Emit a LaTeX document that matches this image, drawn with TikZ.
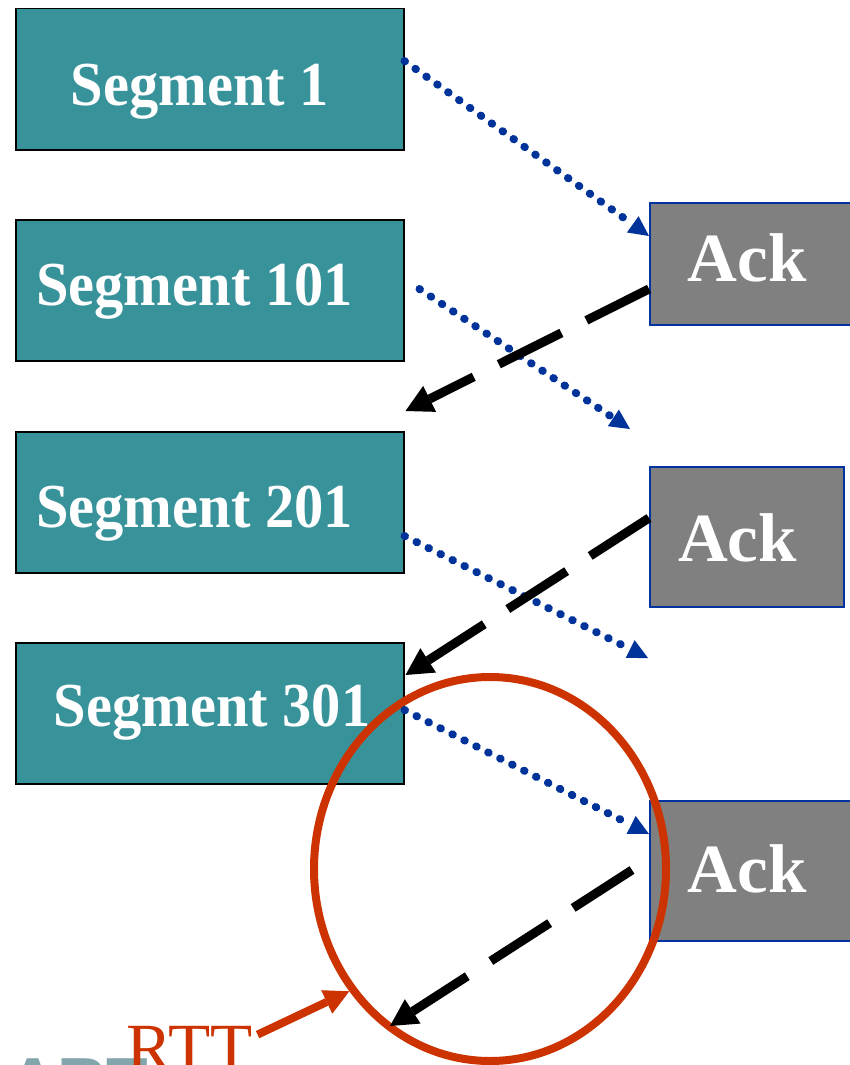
\documentclass[tikz,border=0pt]{standalone}
\usepackage{graphicx}
\usepackage{fontspec}
\setmainfont{Liberation Serif}
\newfontfamily\logofont{Liberation Sans}
\usetikzlibrary{arrows.meta,calc,shapes.geometric}

\definecolor{segteal}{RGB}{56,146,154}
\definecolor{ackgray}{RGB}{128,128,128}
\definecolor{ackblue}{RGB}{0,51,160}
\definecolor{dotblue}{RGB}{0,51,153}
\definecolor{rttred}{RGB}{204,51,0}
\definecolor{logogray}{RGB}{130,166,172}

% slightly tall lettering for the box labels
\newcommand{\tallbox}[1]{\scalebox{1}[1.07]{#1}}

\begin{document}
\begin{tikzpicture}[x=1pt,y=-1pt,
  segbox/.style={draw=black, line width=1.5pt, fill=segteal,
    minimum width=388pt, minimum height=141pt, anchor=north west, inner sep=0pt},
  ackbox/.style={draw=ackblue, line width=2pt, fill=ackgray,
    anchor=north west, inner sep=0pt},
  seglabel/.style={text=white, font=\bfseries\fontsize{58.5}{60}\selectfont,
    anchor=base, inner sep=0pt},
  acklabel/.style={text=white, font=\bfseries\fontsize{69}{69}\selectfont,
    anchor=base, inner sep=0pt},
  send/.style={dotblue, line width=8pt, line cap=round,
    dash pattern=on 0.6pt off 12.8pt,
    -{Triangle[length=20pt,width=20pt,line width=0pt]}},
  reply/.style={black, line width=9pt, dash pattern=on 70pt off 28pt,
    -{Triangle[length=27pt,width=29pt,line width=0pt]}},
  ringstyle/.style={ellipse, draw=rttred, line width=8pt,
    minimum width=352pt, minimum height=384pt, inner sep=0pt},
  rttarrow/.style={rttred, line width=8pt,
    -{Triangle[length=25pt,width=26pt,line width=0pt]}},
]
\useasboundingbox (0,0) rectangle (850,1065);
\clip (0,0) rectangle (850,1065);

% partial logo lettering at the lower edge
\node[text=logogray, font=\logofont\bfseries\fontsize{68}{68}\selectfont,
  anchor=base east, inner sep=0pt] (logo) at (148,1105) {ART};

% sender segments
\node[segbox] (s1)   at (15,8)   {};
\node[segbox] (s101) at (15,219) {};
\node[segbox] (s201) at (15,431) {};
\node[segbox] (s301) at (15,642) {};
\node[seglabel] (t1)   at (200,105)   {\tallbox{Segment 1}};
\node[seglabel] (t101) at (194.5,305) {\tallbox{Segment 101}};
\node[seglabel] (t201) at (194.5,527) {\tallbox{Segment 201}};
\node[seglabel] (t301) at (212,726)   {\tallbox{Segment 301}};

% acknowledgements
\node[ackbox, minimum width=215pt, minimum height=122pt] (a1) at (649,202) {};
\node[ackbox, minimum width=194pt, minimum height=140pt] (a2) at (649,466) {};
\node[ackbox, minimum width=215pt, minimum height=140pt] (a3) at (649,800) {};
\node[acklabel] (k1) at (747,281)   {Ack};
\node[acklabel] (k2) at (737.5,561) {Ack};
\node[acklabel] (k3) at (747,892)   {Ack};

% round-trip ring
\node[ringstyle] (ring) at (490,869) {};

% free ends of the arrows
\coordinate (e101) at (630,429);
\coordinate (e201) at (648,658);
\coordinate (r1)   at ($(s201.north east)+(1,-20)$);
\coordinate (r3)   at (390,1026);

% data segments sent
\draw[send] ($(s1.north east)+(0,53)$)    -- ($(a1.north west)+(0,34)$);
\draw[send] ($(s101.north east)+(15,70)$) -- (e101);
\draw[send] ($(s201.north east)+(0,105)$) -- (e201);
\draw[send] ($(s301.north east)+(0,68)$)  -- ($(a3.north west)+(0,34)$);

% acknowledgements returned
\draw[reply] ($(a1.north west)+(0,87)$)   -- (r1);
\draw[reply] ($(a2.north west)+(0,52)$)   -- ($(s301.north east)+(1,33)$);
\draw[reply] ($(a3.north west)+(-17,70)$) -- (r3);

% RTT label
\node[text=rttred, font=\fontsize{69}{69}\selectfont, anchor=base west,
  inner sep=0pt] (rtt) at (126,1071) {RTT};
\draw[rttarrow] ($(rtt.north east)+(5,9)$) -- (ring.221);
\end{tikzpicture}
\end{document}
